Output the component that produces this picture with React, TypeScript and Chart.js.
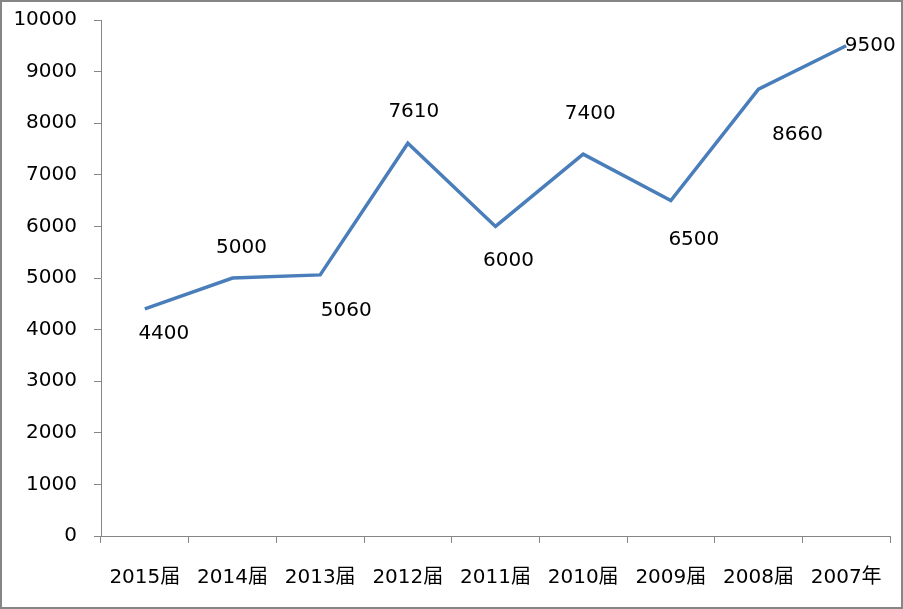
import React, { useEffect, useRef } from "react";
import { Chart, registerables } from "chart.js";

Chart.register(...registerables);

const categories = ["2015届", "2014届", "2013届", "2012届", "2011届", "2010届", "2009届", "2008届", "2007年"];
const values = [4400, 5000, 5060, 7610, 6000, 7400, 6500, 8660, 9500];

// label offsets (dx, dy) relative to each point, in pixels
const labelDx = [19, 9, 26, 6, 13, 7, 23, 39, 24];
const labelDy = [25, -30, 36, -32, 34, -40, 39, 46, 0];

const FONT = "'DejaVu Sans', 'Noto Sans CJK SC', sans-serif";
const AXIS = "#868686";

const labelPlugin = {
  id: "pointLabels",
  afterDatasetsDraw(chart: any) {
    const meta = chart.getDatasetMeta(0);
    const ctx = chart.ctx;
    ctx.save();
    ctx.font = `20px ${FONT}`;
    ctx.fillStyle = "#000";
    ctx.textAlign = "center";
    ctx.textBaseline = "middle";
    meta.data.forEach((pt: any, i: number) => {
      ctx.fillText(String(values[i]), pt.x + labelDx[i], pt.y + labelDy[i]);
    });
    ctx.restore();
  },
};

export default function App() {
  const ref = useRef<HTMLCanvasElement>(null);
  useEffect(() => {
    if (!ref.current) return;
    const chart = new Chart(ref.current, {
      type: "line",
      data: {
        labels: categories,
        datasets: [
          {
            data: values,
            borderColor: "#4A7EBB",
            borderWidth: 3.5,
            pointRadius: 0,
            tension: 0,
            fill: false,
          },
        ],
      },
      options: {
        animation: false,
        responsive: false,
        layout: { padding: { top: 18, right: 11, left: 0, bottom: 0 } },
        plugins: { legend: { display: false }, tooltip: { enabled: false } },
        scales: {
          x: {
            offset: true,
            grid: { offset: true, drawOnChartArea: false, drawTicks: true, tickLength: 7, color: AXIS, lineWidth: 1 },
            border: { color: AXIS, width: 1 },
            ticks: { color: "#000", font: { family: FONT, size: 20 }, padding: 23, maxRotation: 0, autoSkip: false },
            afterFit: (s: any) => {
              s.height = 71;
              s.paddingLeft = 0;
              s.paddingRight = 0;
            },
          },
          y: {
            min: 0,
            max: 10000,
            grid: { drawOnChartArea: false, drawTicks: true, tickLength: 7, color: AXIS, lineWidth: 1 },
            border: { color: AXIS, width: 1 },
            ticks: {
              stepSize: 1000,
              color: "#000",
              font: { family: FONT, size: 20 },
              padding: 17,
              callback: (v: any) => String(v),
            },
            afterFit: (s: any) => {
              s.width = 99;
              s.paddingTop = 0;
              s.paddingBottom = 0;
            },
          },
        },
      },
      plugins: [labelPlugin],
    });
    return () => chart.destroy();
  }, []);
  return (
    <div
      style={{
        position: "absolute",
        left: 0,
        top: 0,
        width: 903,
        height: 609,
        boxSizing: "border-box",
        border: `2px solid ${AXIS}`,
        background: "#fff",
      }}
    >
      <canvas ref={ref} width={899} height={605} style={{ display: "block" }} />
    </div>
  );
}
